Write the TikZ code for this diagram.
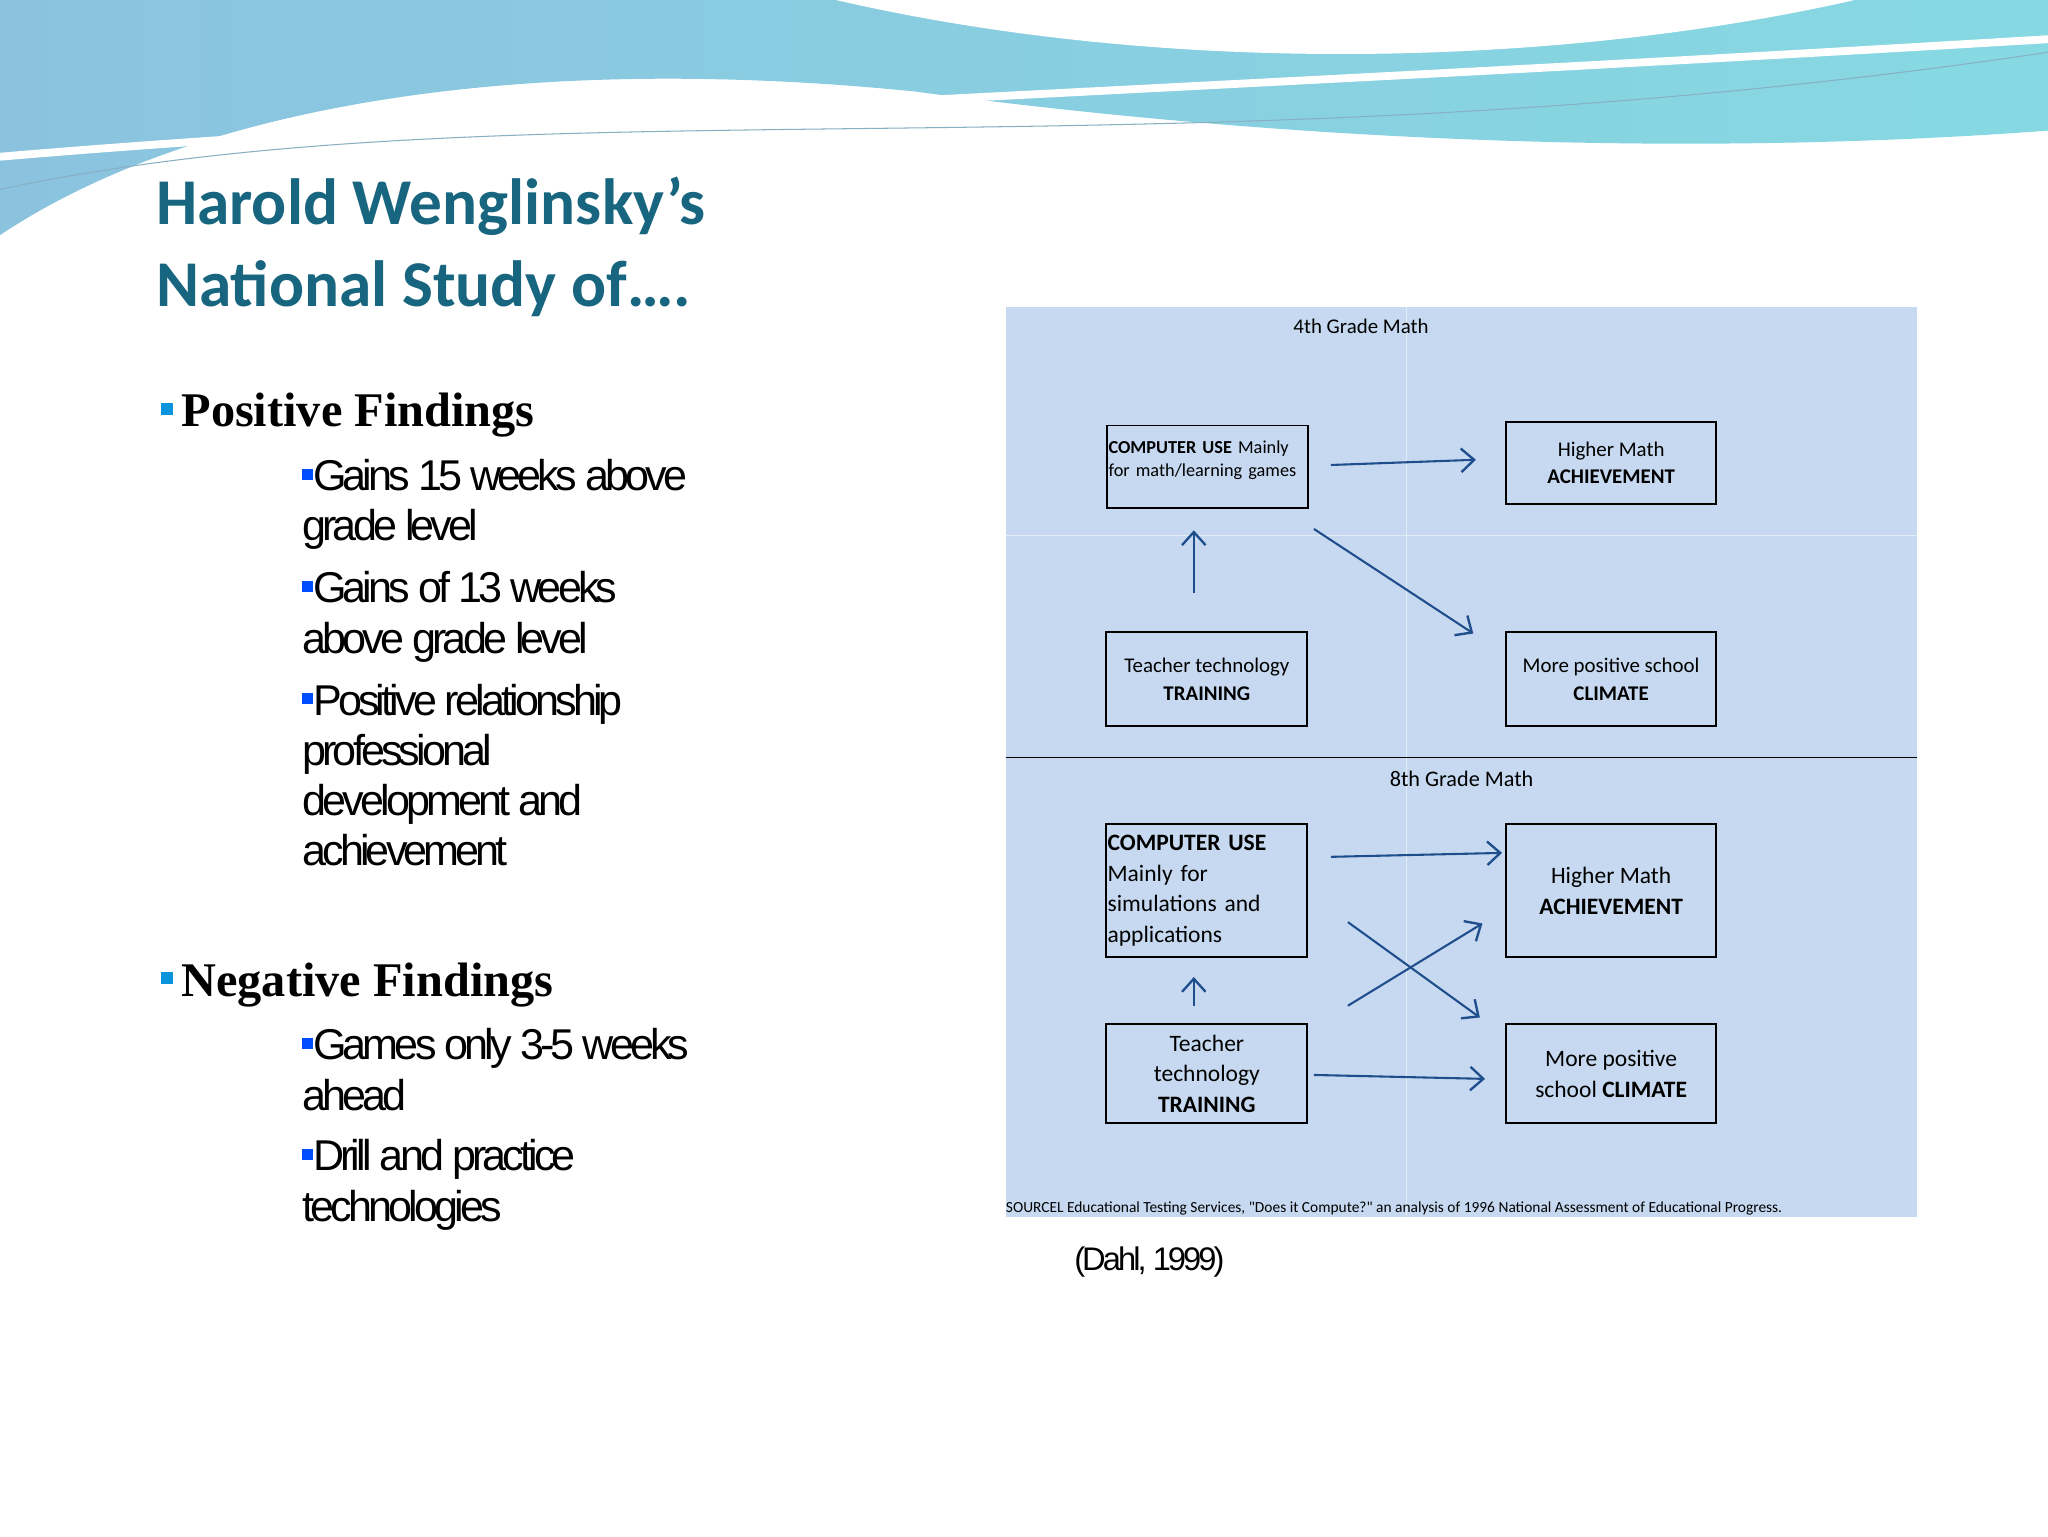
\documentclass[tikz,border=0pt]{standalone}
\usepackage{fontspec}
\setmainfont{Liberation Serif}
\newfontfamily\carl{Carlito}
\newfontfamily\cond[LetterSpace=-9]{Liberation Sans}
\usetikzlibrary{arrows.meta}
\definecolor{ttl}{HTML}{17657F}
\definecolor{panel}{HTML}{C6D9F0}
\definecolor{arr}{HTML}{1F4E8C}
\definecolor{wave1}{HTML}{8BC3DF}
\definecolor{wave2}{HTML}{86D9E2}
\tikzset{
  box/.style={draw=black,line width=1.5pt,fill=panel,inner sep=1pt,align=center,font=\carl\fontsize{16}{21}\selectfont},
  con/.style={draw=arr,line width=1.6pt,-{Straight Barb[length=10pt,width=18pt,line width=1.8pt]}},
  sub/.style={anchor=north west,align=left,font=\cond\fontsize{33}{38.5}\selectfont},
  head/.style={anchor=west,font=\bfseries\fontsize{37}{40}\selectfont}
}
\newcommand\bsq[1]{{\color{#1}\rule[0.25em]{0.25em}{0.25em}}}
\begin{document}
\begin{tikzpicture}[x=1pt,y=-1pt]
\useasboundingbox (0,0) rectangle (1568,1176);
\fill[white] (0,0) rectangle (1568,1176);
% top wave
\shade[left color=wave1,right color=wave2] (0,0) -- (1568,0) -- (1568,100) .. controls (1300,120) and (1000,110) .. (700,70) .. controls (400,40) and (150,80) .. (0,180) -- cycle;
\fill[white] (640,0) .. controls (900,60) and (1200,50) .. (1420,0) -- cycle;
\draw[wave1!70!gray,line width=0.8pt] (0,145) .. controls (400,60) and (900,140) .. (1568,40);
\draw[white,line width=6pt] (0,120) .. controls (350,90) and (900,70) .. (1568,30);
% title
\node[anchor=west,text=ttl,font=\carl\bfseries\fontsize{50}{54}\selectfont] (t1) at (116,158) {Harold Wenglinsky’s};
\node[anchor=west,text=ttl,font=\carl\bfseries\fontsize{50}{54}\selectfont] (t2) at (116,221) {National Study of….};
% left bullets
\node[head] (p) at (120,318) {\bsq{cyan!80!blue}\,Positive Findings};
\node[sub] (s1) at (228,348) {\bsq{blue!70!cyan}Gains 15 weeks above\\grade level};
\node[sub] (s2) at (228,434) {\bsq{blue!70!cyan}Gains of 13 weeks\\above grade level};
\node[sub] (s3) at (228,520) {\bsq{blue!70!cyan}Positive relationship\\professional\\development and\\achievement};
\node[head] (n) at (120,754) {\bsq{cyan!80!blue}\,Negative Findings};
\node[sub] (s4) at (228,784) {\bsq{blue!70!cyan}Games only 3-5 weeks\\ahead};
\node[sub] (s5) at (228,869) {\bsq{blue!70!cyan}Drill and practice\\technologies};
\node[font=\cond\fontsize{25}{28}\selectfont] (dahl) at (880,966) {(Dahl, 1999)};
% panel
\fill[panel] (770,235) rectangle (1468,932);
\draw[white,line width=0.5pt,opacity=0.5] (1077,235) -- (1077,932) (770,410) -- (1468,410);
\draw[black,line width=0.8pt] (770,580) -- (1468,580);
\node[font=\carl\fontsize{16}{18}\selectfont] (g4) at (1042,250) {4th Grade Math};
\node[font=\carl\fontsize{17}{18}\selectfont] (g8) at (1119,596) {8th Grade Math};
\node[anchor=west,inner sep=0pt,font=\carl\fontsize{11.8}{13}\selectfont] (src) at (770,925) {SOURCEL Educational Testing Services, "Does it Compute?" an analysis of 1996 National Assessment of Educational Progress.};
% 4th grade boxes
\node[box,minimum width=154pt,minimum height=63pt,align=left,text width=152pt,font=\carl\fontsize{14}{18}\selectfont,anchor=north west,text depth=30pt,inner sep=0pt] (cu4) at (847,325) {\textbf{COMPUTER USE} Mainly\\for math/learning games};
\node[box,minimum width=161pt,minimum height=63pt] (ha4) at (1233.5,354.5) {Higher Math\\\textbf{ACHIEVEMENT}};
\node[box,minimum width=154pt,minimum height=72pt] (tt4) at (924,520) {Teacher technology\\\textbf{TRAINING}};
\node[box,minimum width=161pt,minimum height=72pt] (mc4) at (1233.5,520) {More positive school\\\textbf{CLIMATE}};
% 8th grade boxes
\node[box,minimum width=154pt,minimum height=102pt,align=left,text width=152pt,font=\carl\fontsize{18}{23.5}\selectfont] (cu8) at (924,682) {\textbf{COMPUTER USE}\\Mainly for\\simulations and\\applications};
\node[box,minimum width=161pt,minimum height=102pt,font=\carl\fontsize{18}{23.5}\selectfont] (ha8) at (1233.5,682) {Higher Math\\\textbf{ACHIEVEMENT}};
\node[box,minimum width=154pt,minimum height=76pt,font=\carl\fontsize{18}{23.5}\selectfont] (tt8) at (924,822) {Teacher\\technology\\\textbf{TRAINING}};
\node[box,minimum width=161pt,minimum height=76pt,font=\carl\fontsize{18}{23.5}\selectfont] (mc8) at (1233.5,822) {More positive\\school \textbf{CLIMATE}};
% connector coordinates
\coordinate (a1s) at (1019,356); \coordinate (a1e) at (1130,352);
\coordinate (a2s) at (1006,405); \coordinate (a2e) at (1128,485);
\coordinate (a3s) at (914,454);  \coordinate (a3e) at (914,406);
\coordinate (b1s) at (1019,656); \coordinate (b1e) at (1150,653);
\coordinate (b2s) at (1032,706); \coordinate (b2e) at (1133,779);
\coordinate (b3s) at (1032,770); \coordinate (b3e) at (1135,707);
\coordinate (b4s) at (914,770);  \coordinate (b4e) at (914,748);
\coordinate (b5s) at (1006,823); \coordinate (b5e) at (1137,826);
\foreach \s/\e in {a1s/a1e,a2s/a2e,a3s/a3e,b1s/b1e,b2s/b2e,b3s/b3e,b4s/b4e,b5s/b5e}
  \draw[con] (\s) -- (\e);
\end{tikzpicture}
\end{document}
